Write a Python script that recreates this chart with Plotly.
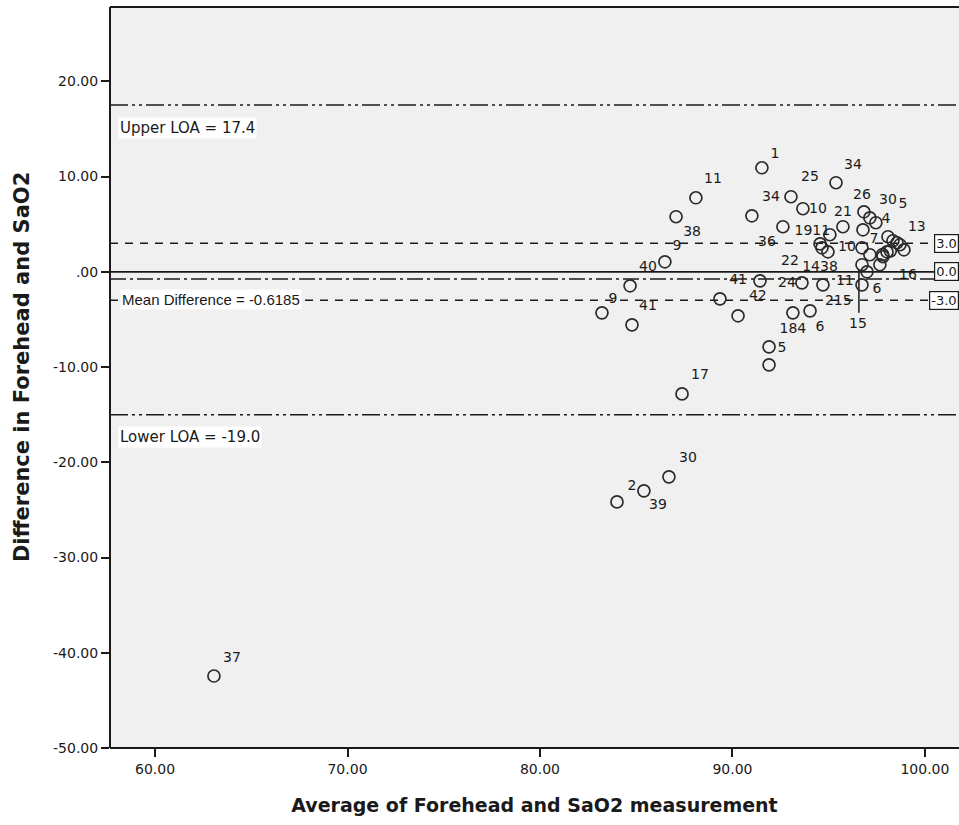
import plotly.graph_objects as go

# ---- data ----
avg_vals = [91.53, 95.38, 93.04, 93.66, 88.10, 87.07, 91.01, 86.49, 92.62, 95.74,
            95.06, 94.55, 94.65, 94.96, 96.83, 97.14, 97.45, 96.78, 96.73, 97.14,
            98.08, 98.34, 98.55, 98.70, 98.91, 98.03, 97.82, 97.66, 96.73, 96.99,
            96.73, 91.43, 93.61, 94.70, 89.35, 84.68, 83.22, 84.78, 90.29, 93.14,
            94.03, 91.90, 91.90, 87.38, 84.00, 85.40, 86.70, 63.06, 97.80, 98.20]
diff_vals = [10.92, 9.35, 7.88, 6.62, 7.77, 5.78, 5.88, 1.05, 4.73, 4.73,
             3.89, 2.94, 2.52, 2.10, 6.30, 5.67, 5.15, 4.41, 2.52, 1.79,
             3.68, 3.26, 3.05, 2.84, 2.31, 2.10, 1.58, 0.74, 0.74, 0.00,
             -1.37, -0.95, -1.16, -1.37, -2.84, -1.47, -4.31, -5.57, -4.62, -4.31,
             -4.10, -7.88, -9.77, -12.82, -24.16, -23.00, -21.53, -42.44, 1.80, 2.20]

label_text = ["1", "34", "25", "34", "10", "11", "38", "9", "36", "1911", "21", "26",
              "30", "5", "4", "13", "7", "10", "22", "1438", "40", "41", "24", "11",
              "16", "6", "42", "9", "41", "215", "15", "184", "6", "5", "17", "30",
              "2", "39", "37"]
label_x = [92.21, 96.26, 94.03, 92.00, 94.44, 88.99, 87.90, 87.12, 91.79, 94.15, 95.74, 96.73,
           98.08, 98.86, 97.97, 99.58, 97.35, 95.95, 92.99, 94.55, 85.61, 90.29, 92.83, 95.84,
           99.12, 97.51, 91.32, 83.79, 85.61, 95.50, 96.52, 93.14, 94.55, 92.57, 88.31, 87.69,
           84.78, 86.13, 64.00]
label_y = [12.29, 11.13, 9.87, 7.77, 6.51, 9.66, 4.10, 2.63, 3.05, 4.20, 6.20, 7.98,
           7.46, 7.04, 5.46, 4.62, 3.36, 2.52, 1.05, 0.42, 0.42, -0.95, -1.26, -1.05,
           -0.42, -1.89, -2.63, -2.94, -3.68, -3.15, -5.57, -6.09, -5.88, -8.09, -10.92, -19.64,
           -22.58, -24.58, -40.65]

upper_loa = 17.5
lower_loa = -15.0
mean_diff = -0.75
ci_upper = 3.0
ci_lower = -3.0
zero_line = 0.0
vline_x = 96.57
vline_y = [0.2, -4.3]

x_ticks = [60, 70, 80, 90, 100]
x_ticklabels = ["60.00", "70.00", "80.00", "90.00", "100.00"]
y_ticks = [20, 10, 0, -10, -20, -30, -40, -50]
y_ticklabels = ["20.00", "10.00", ".00", "-10.00", "-20.00", "-30.00", "-40.00", "-50.00"]

FONT = "DejaVu Sans, Liberation Sans, sans-serif"
NARROW = "Liberation Sans, Arial, sans-serif"
INK = "#1a1a1a"

fig = go.Figure()

fig.add_trace(go.Scatter(
    x=avg_vals, y=diff_vals, mode="markers",
    marker=dict(symbol="circle-open", size=12, color="#2a2a2a", line=dict(width=1.7)),
    showlegend=False, hoverinfo="skip"))

fig.add_trace(go.Scatter(
    x=label_x, y=label_y, mode="text", text=label_text,
    textfont=dict(family=FONT, size=14, color=INK),
    showlegend=False, hoverinfo="skip"))

def hline(y, dash, width=1.5):
    fig.add_shape(type="line", xref="paper", x0=0, x1=1, yref="y", y0=y, y1=y,
                  line=dict(color=INK, width=width, dash=dash), layer="below")

hline(upper_loa, "18px,4px,3px,4px,3px,4px")
hline(lower_loa, "18px,4px,3px,4px,3px,4px")
hline(mean_diff, "16px,4px,3px,4px")
hline(ci_upper, "8px,7px")
hline(ci_lower, "8px,7px")
hline(zero_line, "solid", 1.8)

# frame: left, top and bottom only (right side runs off the picture)
fig.add_shape(type="line", xref="paper", yref="paper", x0=0, x1=0, y0=0, y1=1,
              line=dict(color=INK, width=2), layer="above")
fig.add_shape(type="line", xref="paper", yref="paper", x0=0, x1=1.01, y0=1, y1=1,
              line=dict(color=INK, width=2), layer="above")
fig.add_shape(type="line", xref="paper", yref="paper", x0=0, x1=1.01, y0=0, y1=0,
              line=dict(color=INK, width=2), layer="above")

fig.add_shape(type="line", xref="x", yref="y", x0=vline_x, x1=vline_x,
              y0=vline_y[0], y1=vline_y[1], line=dict(color=INK, width=1.5), layer="below")

def label(text, x, y, family=FONT, size=15):
    fig.add_annotation(text=text, x=x, y=y, xref="x", yref="y", xanchor="left",
                       yanchor="middle", showarrow=False, bgcolor="white",
                       font=dict(family=family, size=size, color=INK), borderpad=1)

label("Upper LOA = 17.4", 58.05, 15.1)
label("Mean Difference = -0.6185", 58.20, -2.95, NARROW, 15)
label("Lower LOA = -19.0", 58.05, -17.3)

def box(text, y):
    fig.add_annotation(text=text, x=1.0, y=y, xref="paper", yref="y", xanchor="right",
                       yanchor="middle", showarrow=False, bgcolor="white",
                       bordercolor=INK, borderwidth=1.2, borderpad=1,
                       font=dict(family=FONT, size=13, color=INK))

box("3.0", ci_upper)
box("0.0", zero_line)
box("-3.0", ci_lower)

# y axis title as a rotated annotation
fig.add_annotation(text="<b>Difference in Forehead and SaO2</b>", textangle=-90,
                   xref="paper", yref="paper", x=-0.1037, y=0.514,
                   xanchor="center", yanchor="middle", showarrow=False,
                   font=dict(family=FONT, size=21, color=INK))

fig.update_layout(
    template="none",
    width=959, height=825,
    margin=dict(l=110, r=0, t=7, b=77),
    paper_bgcolor="white", plot_bgcolor="#f0f0f0",
    font=dict(family=FONT, color=INK),
    xaxis=dict(range=[57.66, 101.77], tickvals=x_ticks, ticktext=x_ticklabels,
               ticks="outside", ticklen=8, tickwidth=1.5, tickcolor=INK,
               showline=False, showgrid=False, zeroline=False, automargin=False,
               tickfont=dict(size=14, color=INK),
               title=dict(text="<b>Average of Forehead and SaO2 measurement</b>",
                          font=dict(size=19, color=INK), standoff=22)),
    yaxis=dict(range=[-50, 27.8], tickvals=y_ticks, ticktext=y_ticklabels,
               ticks="outside", ticklen=8, tickwidth=1.5, tickcolor=INK,
               showline=False, showgrid=False, zeroline=False, automargin=False,
               tickfont=dict(size=14, color=INK)),
)

fig.write_html("out.html", post_script="document.body.style.margin='0';",
               config={"displayModeBar": False})
